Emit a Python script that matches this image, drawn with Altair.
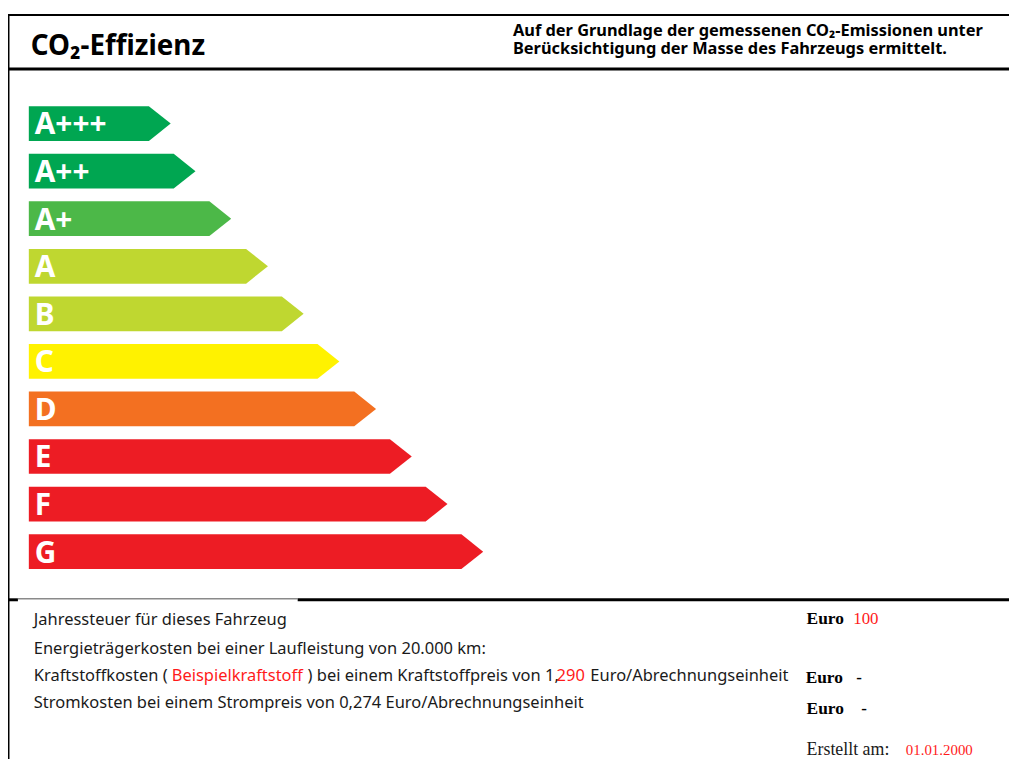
import altair as alt
import pandas as pd

# ---------------- data ----------------
classes = ["A+++", "A++", "A+", "A", "B", "C", "D", "E", "F", "G"]
lengths = [143, 168, 204, 241, 277, 313, 350, 386, 422, 458]
colors = ["#00a651", "#00a651", "#4cb848", "#bfd730", "#bfd730",
          "#fff200", "#f37021", "#ed1c24", "#ed1c24", "#ed1c24"]

title_text = "CO\u2082-Effizienz"
header_lines = ["Auf der Grundlage der gemessenen CO\u2082-Emissionen unter",
                "Berücksichtigung der Masse des Fahrzeugs ermittelt."]
line_tax = "Jahressteuer für dieses Fahrzeug"
line_energy = "Energieträgerkosten bei einer Laufleistung von 20.000 km:"
fuel_parts = ["Kraftstoffkosten (", "Beispielkraftstoff", ") bei einem Kraftstoffpreis von 1,",
              "290", "Euro/Abrechnungseinheit"]
line_power = "Stromkosten bei einem Strompreis von 0,274 Euro/Abrechnungseinheit"
tax_value = "100"
fuel_cost = "-"
power_cost = "-"
created_label = "Erstellt am:"
created_date = "01.01.2000"

# ---------------- layout constants ----------------
W, H = 1009, 754
HALF = 0.365      # half arrow height in row units
TIP = 22          # arrow tip depth in x units
SANS = "Noto Sans"
SERIF = "Liberation Serif"
RED = "#ff1a1a"
INK = "#1a1a1a"
FS = 16.6

xscale = alt.Scale(domain=[-21, W - 21], nice=False, zero=False)
ya = -2.3675
yscale = alt.Scale(domain=[ya, ya + H / 47.94], nice=False, zero=False, reverse=True)

# arrow polygons built from the class lengths
rows = []
for i, (c, L) in enumerate(zip(classes, lengths)):
    rows.append({"cls": c, "yv": i - HALF, "xv": L - TIP})
    rows.append({"cls": c, "yv": i, "xv": L})
    rows.append({"cls": c, "yv": i + HALF, "xv": L - TIP})
arrows_df = pd.DataFrame(rows)
labels_df = pd.DataFrame({"cls": classes, "row": list(range(len(classes)))})

arrows = alt.Chart(arrows_df).mark_area(orient="horizontal", interpolate="linear").encode(
    x=alt.X("xv:Q", scale=xscale, axis=None, stack=None),
    y=alt.Y("yv:Q", scale=yscale, axis=None),
    color=alt.Color("cls:N", scale=alt.Scale(domain=classes, range=colors), legend=None),
    detail="cls:N",
)

labels = alt.Chart(labels_df).mark_text(
    align="left", baseline="alphabetic", dy=11, font=SANS, fontSize=30,
    fontWeight="bold", color="white"
).encode(
    x=alt.value(35 - 8),
    y=alt.Y("row:Q", scale=yscale, axis=None),
    text="cls:N",
)


def txt(s, x, y, size, color=INK, weight="normal", font=SANS, align="left"):
    return alt.Chart(pd.DataFrame({"t": [s]})).mark_text(
        align=align, baseline="alphabetic", font=font, fontSize=size,
        fontWeight=weight, color=color
    ).encode(x=alt.value(x - 8), y=alt.value(y - 8), text="t:N")


def rule(x1, x2, y1, y2, w, color="black"):
    return alt.Chart(pd.DataFrame({"k": [0]})).mark_rule(
        strokeWidth=w, color=color
    ).encode(x=alt.value(x1 - 8), x2=alt.value(x2 - 8),
             y=alt.value(y1 - 8), y2=alt.value(y2 - 8))


frame = [
    rule(7, 1017, 12, 12, 2),
    rule(7, 1017, 66.5, 66.5, 3),
    rule(8.75, 8.75, 11, 762, 1.5),
    rule(8, 18, 601.5, 601.5, 3),
    rule(18, 300, 600.5, 600.5, 1.5, "#8a8a8a"),
    rule(300, 1017, 601.5, 601.5, 3),
]

texts = [
    txt(title_text, 31, 52, 28, "black", "bold"),
    txt(header_lines[0], 517, 33, 16.5, "black", "bold"),
    txt(header_lines[1], 517, 51, 16.5, "black", "bold"),
    txt(line_tax, 34, 627, FS),
    txt(line_energy, 34, 656, FS),
    txt(fuel_parts[0], 34, 683, FS),
    txt(fuel_parts[1], 173, 683, FS, RED),
    txt(fuel_parts[2], 310, 683, FS),
    txt(fuel_parts[3], 561, 683, FS, RED),
    txt(fuel_parts[4], 595, 683, FS),
    txt(line_power, 34, 711, FS),
    txt("Euro", 813, 626, 17.5, "black", "bold", SERIF),
    txt(tax_value, 860, 626, 17, RED, "normal", SERIF),
    txt("Euro", 812, 685, 17.5, "black", "bold", SERIF),
    txt(fuel_cost, 863, 685, 17, "black", "bold", SERIF),
    txt("Euro", 813, 717, 17.5, "black", "bold", SERIF),
    txt(power_cost, 868, 717, 17, "black", "bold", SERIF),
    txt(created_label, 813, 758, 18, INK, "normal", SERIF),
    txt(created_date, 913, 758, 15, RED, "normal", SERIF),
]

chart = alt.layer(arrows, labels, *frame, *texts).properties(
    width=W, height=H, padding=0,
    autosize=alt.AutoSizeParams(type="none"),
    background="white",
).configure_view(stroke=None)

chart.save("out.html", embed_options={"renderer": "svg", "actions": False})
